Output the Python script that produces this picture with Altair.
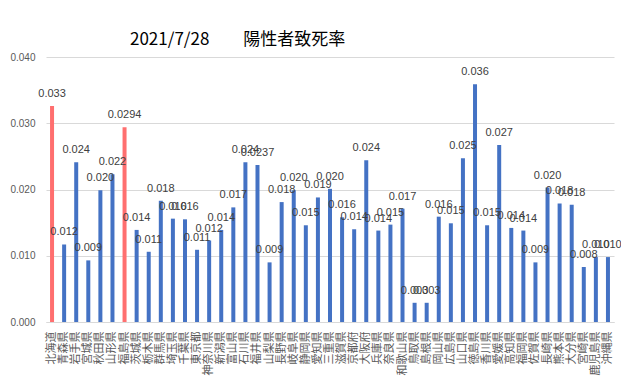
import altair as alt
import pandas as pd

prefectures = ["北海道", "青森県", "岩手県", "宮城県", "秋田県", "山形県", "福島県",
               "茨城県", "栃木県", "群馬県", "埼玉県", "千葉県", "東京都", "神奈川県",
               "新潟県", "富山県", "石川県", "福井県", "山梨県", "長野県", "岐阜県",
               "静岡県", "愛知県", "三重県", "滋賀県", "京都府", "大阪府", "兵庫県",
               "奈良県", "和歌山県", "鳥取県", "島根県", "岡山県", "広島県", "山口県",
               "徳島県", "香川県", "愛媛県", "高知県", "福岡県", "佐賀県", "長崎県",
               "熊本県", "大分県", "宮崎県", "鹿児島県", "沖縄県"]

rates = [0.0326, 0.0117, 0.0241, 0.0093, 0.0199, 0.0223, 0.0294,
         0.0139, 0.0106, 0.0183, 0.0156, 0.0155, 0.0109, 0.0123,
         0.0139, 0.0173, 0.0241, 0.0237, 0.0090, 0.0181, 0.0199,
         0.0146, 0.0188, 0.0201, 0.0158, 0.0140, 0.0244, 0.0138,
         0.0147, 0.0171, 0.0029, 0.0029, 0.0159, 0.0149, 0.0247,
         0.0359, 0.0146, 0.0267, 0.0142, 0.0138, 0.0090, 0.0203,
         0.0179, 0.0177, 0.0083, 0.0098, 0.0098]

labels = ["0.033", "0.012", "0.024", "0.009", "0.020", "0.022", "0.0294",
          "0.014", "0.011", "0.018", "0.016", "0.016", "0.011", "0.012",
          "0.014", "0.017", "0.024", "0.0237", "0.009", "0.018", "0.020",
          "0.015", "0.019", "0.020", "0.016", "0.014", "0.024", "0.014",
          "0.015", "0.017", "0.003", "0.003", "0.016", "0.015", "0.025",
          "0.036", "0.015", "0.027", "0.014", "0.014", "0.009", "0.020",
          "0.018", "0.018", "0.008", "0.010", "0.010"]

highlight = ["北海道", "福島県"]

df = pd.DataFrame({"pref": prefectures, "rate": rates, "label": labels})
df["hl"] = df["pref"].isin(highlight)

x = alt.X("pref:N", sort=prefectures, title=None,
          scale=alt.Scale(paddingInner=0, paddingOuter=0),
          axis=alt.Axis(labelAngle=270, labelFont="Noto Sans CJK JP", labelFontSize=11,
                        labelColor="#595959", labelOverlap=False, labelBound=False,
                        labelPadding=9, ticks=False, domainColor="#D9D9D9",
                        labelLimit=200))
y = alt.Y("rate:Q", title=None,
          scale=alt.Scale(domain=[0, 0.04], nice=False),
          axis=alt.Axis(values=[0, 0.005, 0.01, 0.015, 0.02, 0.025, 0.03, 0.035, 0.04],
                        format=".3f", labelFont="Liberation Sans", labelFontSize=10,
                        labelColor="#595959", labelPadding=11, ticks=False,
                        domain=False, gridColor="#D9D9D9"))

bars = alt.Chart(df).mark_bar(size=4).encode(
    x=x, y=y,
    color=alt.condition(alt.datum.hl, alt.value("#FF6F6F"), alt.value("#4472C4")),
)

text = alt.Chart(df).mark_text(baseline="alphabetic", dy=-9, fontSize=11,
                               font="Liberation Sans", color="#404040").encode(
    x=alt.X("pref:N", sort=prefectures), y="rate:Q", text="label:N"
)

chart = alt.layer(bars, text).properties(
    width=568, height=265,
    padding={"left": 38, "top": 49, "right": 7, "bottom": 57},
    autosize=alt.AutoSizeParams(type="none"),
    title=alt.TitleParams("2021/7/28　　陽性者致死率", anchor="start", frame="group",
                          dx=84, font="Noto Sans CJK JP", fontSize=17,
                          fontWeight="normal", color="#000000", offset=3),
).configure_view(stroke=None)

chart.save("out.html", embed_options={"renderer": "svg", "actions": False})
